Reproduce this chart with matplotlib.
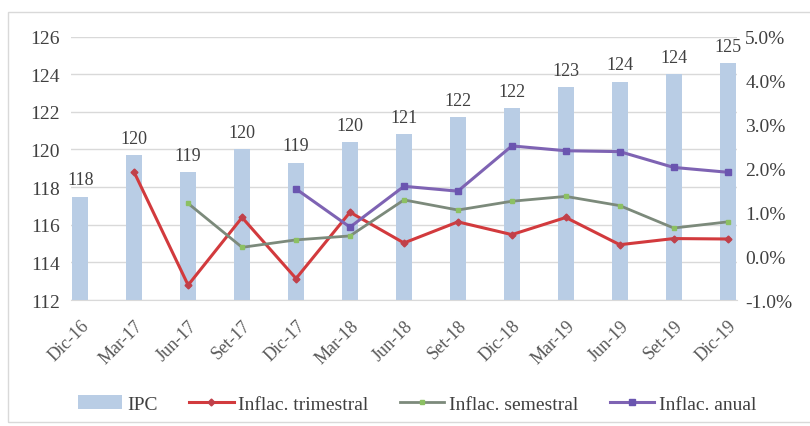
import numpy as np
import matplotlib
matplotlib.use("Agg")
import matplotlib.pyplot as plt
from matplotlib.patches import Rectangle
from matplotlib.ticker import FuncFormatter

plt.rcParams['font.family'] = ['Liberation Serif', 'DejaVu Serif']

# quarterly data
periods = ["Dic-16", "Mar-17", "Jun-17", "Set-17", "Dic-17", "Mar-18", "Jun-18",
           "Set-18", "Dic-18", "Mar-19", "Jun-19", "Set-19", "Dic-19"]
ipc = [117.5, 119.7, 118.8, 120.0, 119.3, 120.4, 120.8,
       121.7, 122.2, 123.3, 123.6, 124.0, 124.6]
nan = np.nan
infl_trim = [nan, 1.91, -0.66, 0.88, -0.51, 1.00, 0.30,
             0.78, 0.49, 0.88, 0.26, 0.40, 0.39]
infl_sem = [nan, nan, 1.20, 0.20, 0.37, 0.46, 1.28,
            1.05, 1.25, 1.36, 1.15, 0.64, 0.78]
infl_anual = [nan, nan, nan, nan, 1.53, 0.66, 1.59,
              1.48, 2.51, 2.40, 2.38, 2.02, 1.91]

fig = plt.figure(figsize=(8.1, 4.27), dpi=100)
ax = fig.add_axes([0.0877, 0.295, 0.822, 0.617])
ax2 = ax.twinx()

x = np.arange(len(periods))
bars = ax.bar(x, ipc, width=0.3, color="#b9cde5", label="IPC", zorder=2)
for xi, v in zip(x, ipc):
    ax.annotate(f"{v:.0f}", (xi, v), xytext=(0, 6), textcoords="offset points",
                ha="center", va="bottom", fontsize=13, color="#404040")

ax.set_ylim(112, 126)
ax.set_yticks(np.arange(112, 127, 2))
ax.set_xlim(-0.17, 12.17)
ax.set_xticks(x)
ax.set_xticklabels(periods, rotation=45, ha="right", rotation_mode="anchor")
ax.yaxis.grid(True, color="#d9d9d9", linewidth=1, zorder=0)
ax.set_axisbelow(True)

ax2.plot(x, infl_trim, color="#d23a3d", lw=2.2, marker="D", ms=3.5,
         mfc="#c0404a", mec="#c0404a", label="Inflac. trimestral", zorder=3)
ax2.plot(x, infl_sem, color="#7c8a7b", lw=2.0, marker="s", ms=3.5,
         mfc="#8cc063", mec="#8cc063", label="Inflac. semestral", zorder=3)
ax2.plot(x, infl_anual, color="#7e63b3", lw=2.2, marker="s", ms=4,
         mfc="#6a55b0", mec="#6a55b0", label="Inflac. anual", zorder=3)
ax2.set_ylim(-1.0, 5.0)
ax2.set_yticks(np.arange(-1, 5.01, 1))
ax2.yaxis.set_major_formatter(FuncFormatter(lambda v, p: f"{v:.1f}%"))

for a in (ax, ax2):
    for s in a.spines.values():
        s.set_visible(False)
    a.tick_params(length=0, labelsize=14, colors="#404040")
ax.tick_params(axis="x", labelsize=13, pad=12, colors="#595959")
ax.tick_params(axis="y", pad=8)
ax2.tick_params(axis="y", pad=6)
ax.spines["bottom"].set_visible(True)
ax.spines["bottom"].set_color("#d9d9d9")

handles = [bars] + ax2.get_lines()
labels = [h.get_label() for h in handles]
fig.legend(handles, labels, loc="center", bbox_to_anchor=(0.515, 0.052), ncol=4,
           frameon=False, fontsize=14, handlelength=2.3, columnspacing=1.6,
           handletextpad=0.25, labelcolor="#404040")

# outer chart border
fig.patches.append(Rectangle((8 / 810, 4 / 427), 1.2, 410 / 427,
                             transform=fig.transFigure, fill=False,
                             edgecolor="#d9d9d9", linewidth=1))

fig.savefig("out.png", dpi=100)
